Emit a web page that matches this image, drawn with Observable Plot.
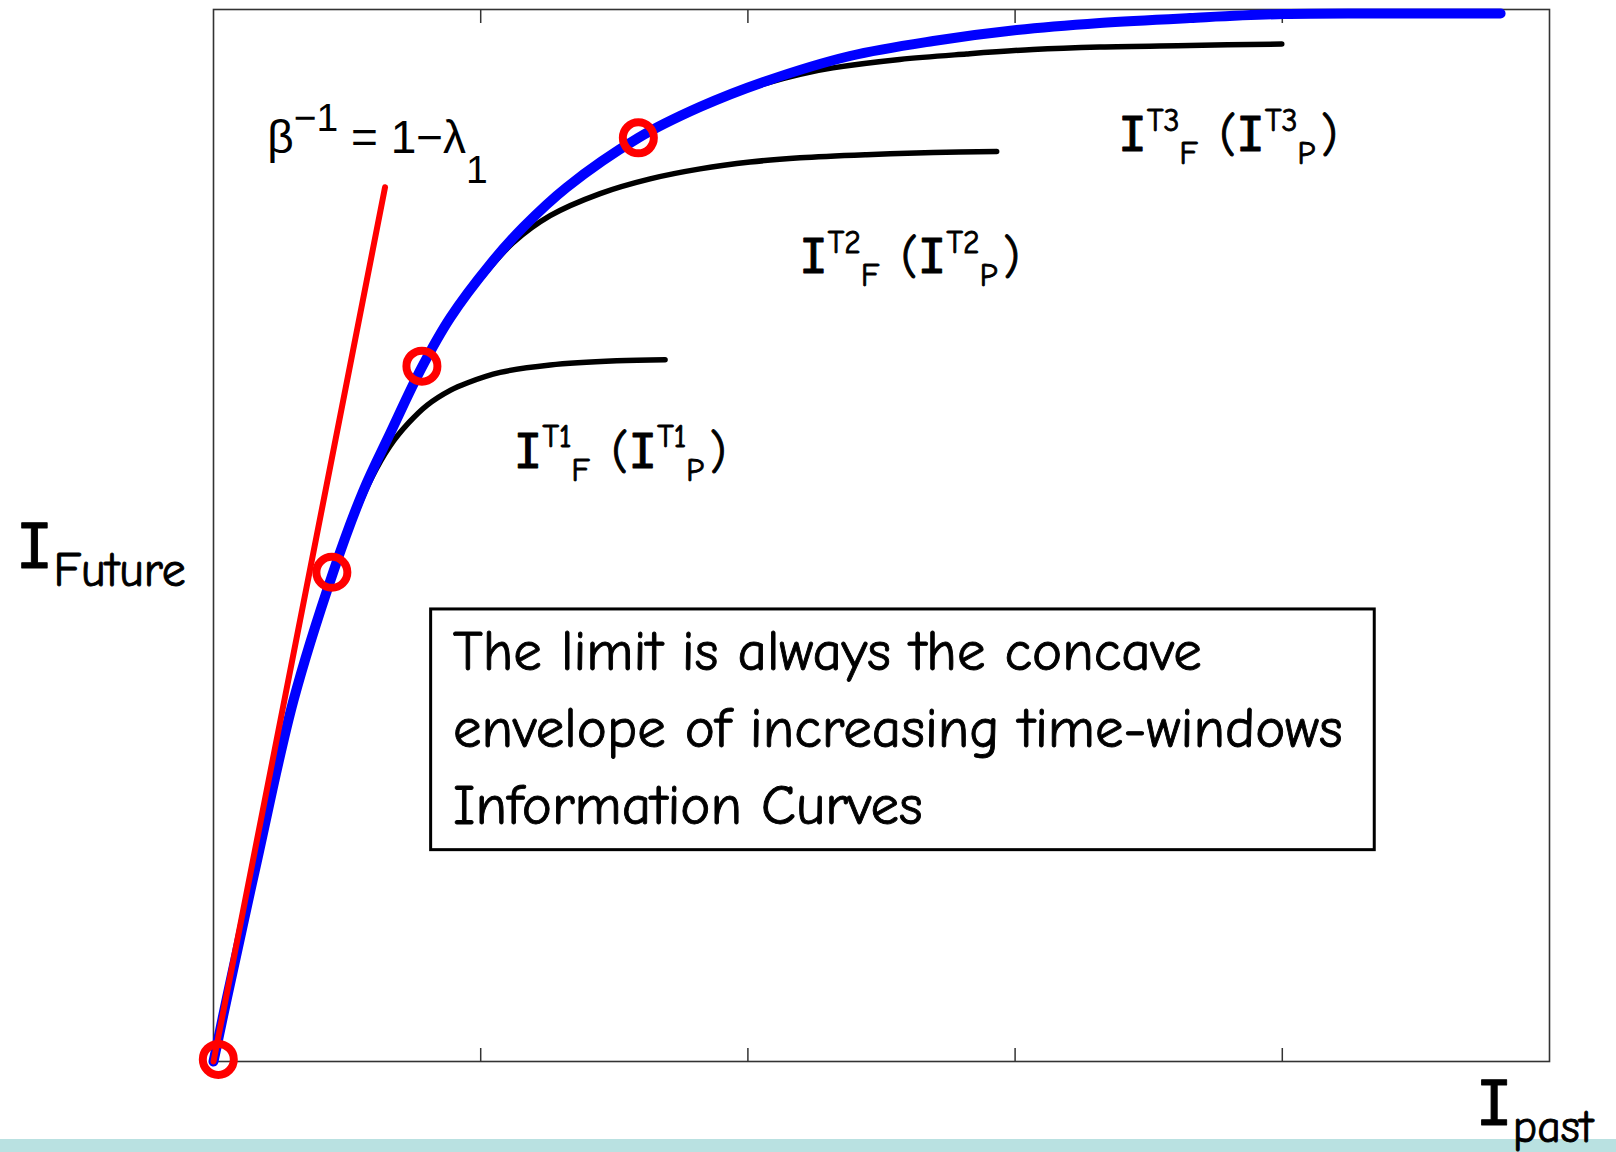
<!DOCTYPE html>
<html>
<head>
<meta charset="utf-8">
<script src="https://cdn.jsdelivr.net/npm/d3@7"></script>
<script src="https://cdn.jsdelivr.net/npm/@observablehq/plot@0.6"></script>
<style>
  html, body { margin: 0; padding: 0; background: #fff; }
  #wrap { position: relative; width: 1616px; height: 1152px; overflow: hidden; }
  #band { position: absolute; left: 0; top: 1139px; width: 1616px; height: 13px; background: #b9e1e1; }
  #chart { position: absolute; left: 0; top: 0; }
</style>
</head>
<body>
<div id="wrap"><div id="band"></div><div id="chart"></div></div>
<script>
// Information curves I_F(I_P) for three growing time windows and their concave envelope.

// Envelope (limit) curve: [I_past, I_future]
const envelope = [
  [0, 0], [0.05, 0.06], [0.162, 0.19], [0.299, 0.343], [0.449, 0.466], [0.56, 0.542],
  [0.661, 0.597], [0.78, 0.66], [0.886, 0.707], [1.036, 0.758], [1.159, 0.793],
  [1.322, 0.831], [1.59, 0.878], [1.821, 0.9074], [2.07, 0.9321], [2.382, 0.9558],
  [2.694, 0.9701], [3.006, 0.9805], [3.317, 0.9872], [3.654, 0.9919], [4.006, 0.9957],
  [4.376, 0.9962], [4.817, 0.9962]
];

// Information curve, window T1
const windowT1 = [
  [0, 0], [0.05, 0.06], [0.162, 0.19], [0.299, 0.343], [0.449, 0.466], [0.52, 0.513],
  [0.59, 0.554], [0.66, 0.585], [0.73, 0.607], [0.8, 0.624], [0.886, 0.638],
  [0.949, 0.645], [1.073, 0.655], [1.26, 0.662], [1.509, 0.666], [1.69, 0.667]
];

// Information curve, window T2
const windowT2 = [
  [0, 0], [0.05, 0.06], [0.162, 0.19], [0.299, 0.343], [0.449, 0.466], [0.56, 0.542],
  [0.661, 0.597], [0.78, 0.66], [0.886, 0.706], [1.0, 0.744], [1.12, 0.778],
  [1.26, 0.804], [1.447, 0.825], [1.634, 0.839], [1.821, 0.8485], [2.008, 0.855],
  [2.195, 0.859], [2.444, 0.862], [2.694, 0.864], [2.931, 0.865]
];

// Information curve, window T3
const windowT3 = [
  [0, 0], [0.05, 0.06], [0.162, 0.19], [0.299, 0.343], [0.449, 0.466], [0.56, 0.542],
  [0.661, 0.597], [0.78, 0.66], [0.886, 0.707], [1.036, 0.758], [1.159, 0.793],
  [1.322, 0.831], [1.59, 0.878], [1.821, 0.9074], [2.07, 0.93], [2.195, 0.9385],
  [2.318, 0.9445], [2.568, 0.9525], [2.818, 0.9577], [3.067, 0.962], [3.317, 0.9644],
  [3.654, 0.9658], [3.998, 0.9672]
];

// Initial slope β⁻¹ = 1 − λ₁ (tangent at the origin)
const tangent = [[0, 0], [0.642, 0.831]];

// Points where the window curves leave the envelope
const contactPoints = [[0.018, 0.002], [0.443, 0.465], [0.78, 0.661], [1.59, 0.878]];

const xTicks = [1, 2, 3, 4];

// Labels ({^..} superscript, {_..} subscript)
const curveLabels = ["I{^T1}{_F} (I{^T1}{_P})", "I{^T2}{_F} (I{^T2}{_P})", "I{^T3}{_F} (I{^T3}{_P})"];
const slopeLabel = "β{^−1} = 1−λ{_1}";
const xLabel = "I{_past}";
const yLabel = "I{_Future}";
const noteLines = ["The limit is always the concave", "envelope of increasing time-windows", "Information Curves"];

const comic = '"Comic Sans MS", "Comic Neue", Lato, sans-serif';
const serifI = '"DejaVu Sans Mono", monospace';
const xy = {x: d => d[0], y: d => d[1]};

const labelText = (s, o) => Plot.text([s], {
  text: d => d, textAnchor: "start", lineAnchor: "bottom", fill: "#000",
  stroke: "#000", strokeWidth: 0.9, ...o
});

const chart = Plot.plot({
  width: 1616,
  height: 1152,
  marginLeft: 213,
  marginRight: 67,
  marginTop: 9,
  marginBottom: 91,
  x: {domain: [0, 5]},
  y: {domain: [0, 1], axis: null},
  style: {background: "transparent", overflow: "visible"},
  marks: [
    Plot.frame({stroke: "#333", strokeWidth: 1.6}),
    Plot.axisX({anchor: "bottom", ticks: xTicks, tickSize: -13, tickFormat: () => "", label: null, stroke: "#333", strokeWidth: 1.5}),
    Plot.axisX({anchor: "top", ticks: xTicks, tickSize: -13, tickFormat: () => "", label: null, stroke: "#333", strokeWidth: 1.5}),
    ...[windowT1, windowT2, windowT3].map(c =>
      Plot.line(c, {...xy, stroke: "#000", strokeWidth: 5.5, curve: "catmull-rom"})),
    Plot.line(envelope, {...xy, stroke: "#0000ff", strokeWidth: 10, curve: "catmull-rom"}),
    Plot.line(tangent, {...xy, stroke: "#ff0000", strokeWidth: 6}),
    Plot.dot(contactPoints, {...xy, r: 15.5, stroke: "#ff0000", strokeWidth: 8, fill: "none"}),
    Plot.rect([0], {x1: 0.8145, x2: 4.346, y1: 0.2009, y2: 0.4297, fill: "white", stroke: "#000", strokeWidth: 3}),
    labelText(noteLines.join("\n"), {x: 0.8965, y: 0.2255, lineHeight: 1.35, fontSize: 57, fontFamily: comic}),
    labelText(curveLabels[0], {x: 1.123, y: 0.5646, fontSize: 48, fontFamily: comic}),
    labelText(curveLabels[1], {x: 2.191, y: 0.7498, fontSize: 48, fontFamily: comic}),
    labelText(curveLabels[2], {x: 3.385, y: 0.8656, fontSize: 48, fontFamily: comic}),
    labelText(slopeLabel, {x: 0.201, y: 0.8637, fontSize: 46, strokeWidth: 0, fontFamily: '"Liberation Sans", Arial, sans-serif'}),
    labelText(yLabel, {frameAnchor: "left", dx: -198, dy: 32, fontSize: 63, fontFamily: comic}),
    labelText(xLabel, {frameAnchor: "bottom-right", dx: -74, dy: 63, fontSize: 62, fontFamily: comic})
  ]
});

document.getElementById("chart").appendChild(chart);

// Script sizes and baseline shifts, relative to each label's font size
const richStyles = new Map([
  ...curveLabels.map(s => [s, {size: 0.66, sup: 0.42, sub: 0.27, gap: 0.12}]),
  [slopeLabel, {size: 0.85, sup: 0.48, sub: 0.65, gap: 0}],
  [xLabel, {size: 0.74, sup: 0, sub: 0.28, gap: 0}],
  [yLabel, {size: 0.76, sup: 0, sub: 0.29, gap: 0}]
]);

// Turn the {^..}/{_..} markup into tspans with raised/lowered baselines
const svgNS = "http://www.w3.org/2000/svg";
chart.querySelectorAll("text").forEach(text => {
  const src = text.textContent;
  const st = richStyles.get(src);
  if (!st) return;
  const base = parseFloat(getComputedStyle(text).fontSize);
  const re = /\{([\^_])([^}]*)\}|([^{]+)/g;
  const parts = [];
  let m;
  while ((m = re.exec(src))) {
    if (m[3]) parts.push({kind: "n", s: m[3]});
    else parts.push({kind: m[1] === "^" ? "sup" : "sub", s: m[2]});
  }
  text.textContent = "";
  let cur = 0;
  parts.forEach((p, i) => {
    const target = p.kind === "sup" ? -st.sup * base : p.kind === "sub" ? st.sub * base : 0;
    const size = p.kind === "n" ? base : st.size * base;
    const pieces = p.kind === "n" ? p.s.split(/(I)/).filter(Boolean) : [p.s];
    pieces.forEach((piece, j) => {
      const t = document.createElementNS(svgNS, "tspan");
      if (j === 0) {
        t.setAttribute("dy", (target - cur).toFixed(2));
        cur = target;
        // a little room after a lowered script before what follows
        if (p.kind === "n" && i > 0 && parts[i - 1].kind === "sub") t.setAttribute("dx", (st.gap * base).toFixed(2));
      }
      t.setAttribute("font-size", size.toFixed(2));
      if (p.kind === "n" && piece === "I") t.setAttribute("font-family", serifI);
      t.textContent = piece;
      text.appendChild(t);
    });
  });
});
</script>
</body>
</html>
